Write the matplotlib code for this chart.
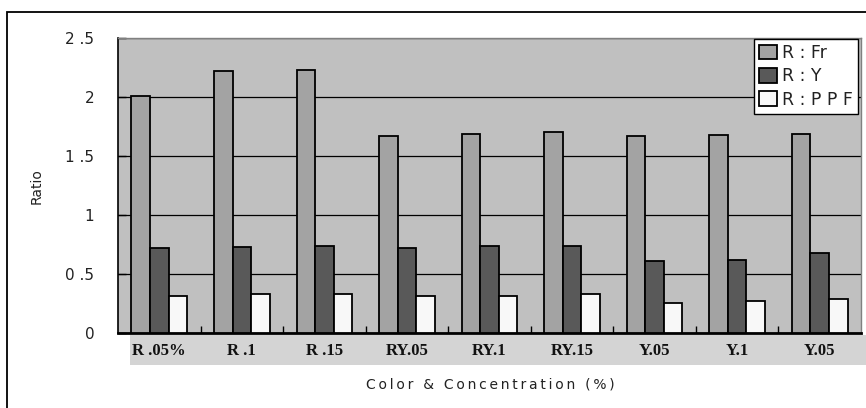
import matplotlib
matplotlib.use("Agg")
import matplotlib.pyplot as plt
from matplotlib.patches import Rectangle
import numpy as np

categories = ["R .05%", "R .1", "R .15", "RY.05", "RY.1", "RY.15", "Y.05", "Y.1", "Y.05"]
r_fr = [2.01, 2.22, 2.23, 1.67, 1.69, 1.70, 1.67, 1.68, 1.69]
r_y = [0.72, 0.73, 0.74, 0.72, 0.74, 0.74, 0.61, 0.62, 0.68]
r_ppf = [0.32, 0.33, 0.33, 0.32, 0.32, 0.33, 0.26, 0.27, 0.29]
series_names = ["R : Fr", "R : Y", "R : P P F"]
y_ticks = [0, 0.5, 1, 1.5, 2, 2.5]
y_tick_labels = ["0", "0 .5", "1", "1 .5", "2", "2 .5"]

W, H = 866, 408
fig = plt.figure(figsize=(W / 100, H / 100), dpi=100)
fig.patch.set_facecolor("white")

# outer frame
fig.patches.append(Rectangle((7 / W, -0.02), 1.05, 1 - 12 / H + 0.02,
                             transform=fig.transFigure, fill=False,
                             edgecolor="black", linewidth=1.3, zorder=-2))

# tick-label band under the plot
fig.patches.append(Rectangle((130 / W, 1 - 365 / H), (W - 130) / W + 0.01, 30 / H,
                             transform=fig.transFigure, facecolor="#d4d4d4",
                             edgecolor="none", zorder=-1))

left, right, top, bottom = 118, 861, 38, 333.3
ax = fig.add_axes([left / W, 1 - bottom / H, (right - left) / W, (bottom - top) / H])
ax.set_facecolor("#c0c0c0")

x = np.arange(len(categories))
bw = 0.225
colors = ["#a3a3a3", "#595959", "#f8f8f8"]
for i, (vals, c, name) in enumerate(zip([r_fr, r_y, r_ppf], colors, series_names)):
    ax.bar(x + (i - 1) * bw, vals, width=bw, color=c, edgecolor="black",
           linewidth=1.3, label=name, zorder=3)

ax.set_xlim(-0.5, len(categories) - 0.5)
ax.set_ylim(0, 2.5)
ax.set_yticks(y_ticks)
ax.set_yticklabels(y_tick_labels, fontsize=11, color="#222222")
ax.yaxis.grid(True, color="black", linewidth=0.9, zorder=1)
ax.set_axisbelow(True)
ax.tick_params(axis="y", direction="in", length=6, width=1, pad=17)

ax.set_xticks(x)
ax.set_xticklabels(categories, fontsize=12, fontweight="bold",
                   family="Liberation Serif", color="#111111")
ax.tick_params(axis="x", length=0, pad=7)
ax.set_xticks(np.arange(0.5, len(categories) - 0.5, 1), minor=True)
ax.tick_params(axis="x", which="minor", direction="in", length=5, width=1)

for s in ["top", "right"]:
    ax.spines[s].set_color("#808080")
    ax.spines[s].set_linewidth(1)
ax.spines["left"].set_color("black")
ax.spines["left"].set_linewidth(1.2)
ax.spines["bottom"].set_color("black")
ax.spines["bottom"].set_linewidth(2)

ax.set_ylabel("Ratio", fontsize=10, color="#222222")
ax.yaxis.set_label_coords(-(left - 44) / (right - left), 0.5)
xlabel = "\u2009".join("Color & Concentration (%)")
fig.text(490 / W, 1 - 384 / H, xlabel, ha="center", va="center",
         fontsize=10, color="#222222")

leg = ax.legend(loc="upper right", bbox_to_anchor=(858 / W, 1 - 39 / H),
                bbox_transform=fig.transFigure, fontsize=12.5, frameon=True,
                fancybox=False, framealpha=1, edgecolor="black",
                handlelength=1.0, handleheight=0.9, handletextpad=0.3,
                borderpad=0.3, labelspacing=0.3, borderaxespad=0)
leg.get_frame().set_linewidth(1)
for t in leg.get_texts():
    t.set_color("#222222")

fig.savefig("out.png", dpi=100)
